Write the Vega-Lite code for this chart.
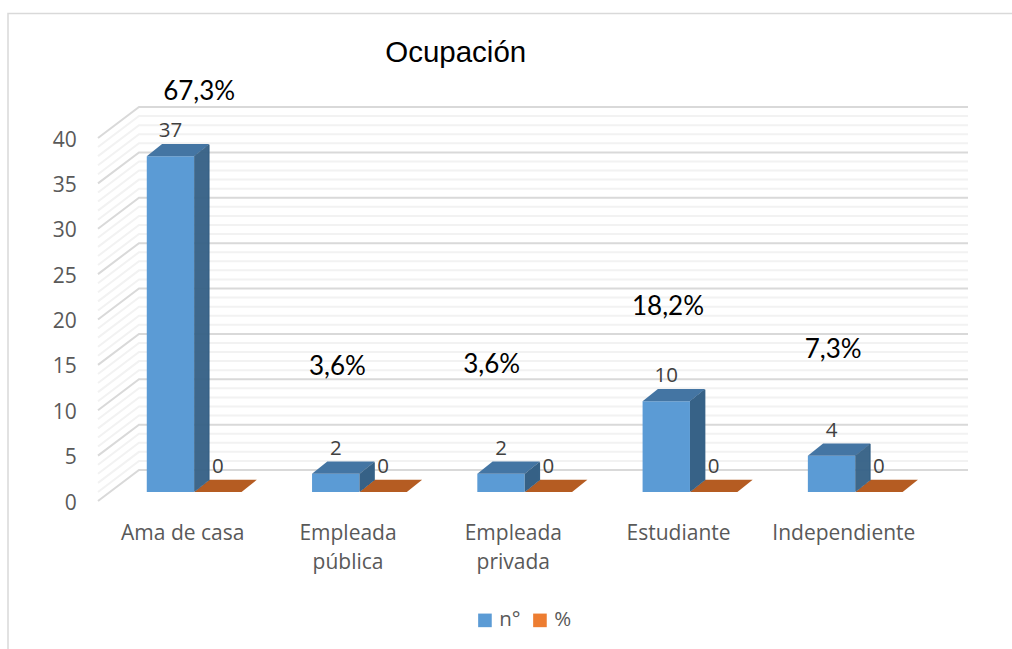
{"$schema":"https://vega.github.io/schema/vega-lite/v6.json","width":829,"height":363,"autosize":{"type":"none"},"padding":{"left":110.2,"top":129,"right":72.8,"bottom":157},"background":"white","view":{"stroke":null},
"title":{"text":"Ocupación","anchor":"start","frame":"group","dx":275,"offset":-58,"font":"Liberation Sans","fontSize":29.5,"fontWeight":"normal","color":"#000000"},
"datasets":{
"rows":[{"cat":"Ama de casa","serie":"n°","n":37},{"cat":"Ama de casa","serie":"%","n":0},{"cat":"Empleada pública","serie":"n°","n":2},{"cat":"Empleada pública","serie":"%","n":0},{"cat":"Empleada privada","serie":"n°","n":2},{"cat":"Empleada privada","serie":"%","n":0},{"cat":"Estudiante","serie":"n°","n":10},{"cat":"Estudiante","serie":"%","n":0},{"cat":"Independiente","serie":"n°","n":4},{"cat":"Independiente","serie":"%","n":0}],
"pct":[{"cat":"Ama de casa","pct":"67,3%","at":44.1},{"cat":"Empleada pública","pct":"3,6%","at":13.8},{"cat":"Empleada privada","pct":"3,6%","at":14.0},{"cat":"Estudiante","pct":"18,2%","at":20.4},{"cat":"Independiente","pct":"7,3%","at":15.6}],
"minor":[{"v":1},{"v":2},{"v":3},{"v":4},{"v":6},{"v":7},{"v":8},{"v":9},{"v":11},{"v":12},{"v":13},{"v":14},{"v":16},{"v":17},{"v":18},{"v":19},{"v":21},{"v":22},{"v":23},{"v":24},{"v":26},{"v":27},{"v":28},{"v":29},{"v":31},{"v":32},{"v":33},{"v":34},{"v":36},{"v":37},{"v":38},{"v":39}],
"major":[{"v":0},{"v":5},{"v":10},{"v":15},{"v":20},{"v":25},{"v":30},{"v":35},{"v":40}]},
"data":{"name":"rows"},
"layer":[
{"data":{"values":[{"k":"frame"}]},"mark":{"type":"point","shape":"M-102.2,520 L-102.2,-115.5 L901.8,-115.5","size":4,"filled":false,"stroke":"#d9d9d9","strokeWidth":1.5,"opacity":1},"encoding":{"x":{"value":0},"y":{"value":0}}},
{"data":{"name":"minor"},"mark":{"type":"point","shape":"M-12.2,9 L28.8,-22 L857.8,-22","size":4,"filled":false,"stroke":"#f2f2f2","strokeWidth":2,"opacity":1},"encoding":{"x":{"value":0},"y":{"field":"v","type":"quantitative","scale":{"domain":[0,40],"nice":false},"axis":{"values":[0,5,10,15,20,25,30,35,40],"title":null,"domain":false,"ticks":false,"grid":false,"labelPadding":34,"labelOffset":11,"labelFont":"Open Sans","labelFontSize":21,"labelColor":"#595959"}}}},
{"data":{"name":"major"},"mark":{"type":"point","shape":"M-12.2,9 L28.8,-22 L857.8,-22","size":4,"filled":false,"stroke":"#d9d9d9","strokeWidth":2,"opacity":1},"encoding":{"x":{"value":0},"y":{"field":"v","type":"quantitative"}}},
{"encoding":{"x":{"field":"cat","type":"nominal","sort":null,"scale":{"paddingInner":0,"paddingOuter":0.008},"axis":{"title":null,"domain":false,"ticks":false,"labelAngle":0,"labelOffset":-11.4,"labelPadding":30,"labelLineHeight":29,"labelFont":"Open Sans","labelFontSize":21,"labelColor":"#595959","labelLimit":300,"labelExpr":"datum.label=='Empleada pública'?['Empleada','pública']:datum.label=='Empleada privada'?['Empleada','privada']:datum.label"}},"xOffset":{"field":"serie","type":"nominal","scale":{"domain":["n°","%"],"paddingInner":0,"paddingOuter":0.744}},"y":{"field":"n","type":"quantitative"}},
"layer":[
{"mark":{"type":"bar"},"encoding":{"y2":{"datum":0},"color":{"field":"serie","type":"nominal","scale":{"domain":["n°","%"],"range":["#5b9bd5","#ed7d31"]},"legend":{"title":null,"orient":"none","legendX":364.5,"legendY":481,"direction":"horizontal","symbolType":"square","symbolSize":185,"symbolOpacity":1,"labelFont":"Open Sans","labelFontSize":20.5,"labelColor":"#595959","labelOffset":4,"columnPadding":9}}}},
{"transform":[{"filter":"datum.serie=='n°'"}],"mark":{"type":"point","shape":"M-23.7,0 L23.7,0 L39,-12.3 L-8.4,-12.3 Z","size":4,"filled":true,"fill":"#4475a3","strokeWidth":0,"opacity":1}},
{"transform":[{"filter":"datum.serie=='%'"}],"mark":{"type":"point","shape":"M-23.7,0 L23.7,0 L39,-12.3 L-8.4,-12.3 Z","size":4,"filled":true,"fill":"#b55c22","strokeWidth":0,"opacity":1}},
{"mark":{"type":"text","font":"Open Sans","fontSize":20.5,"color":"#404040","dy":-25,"baseline":"middle"},"encoding":{"text":{"field":"n","type":"quantitative"}}}]},
{"transform":[{"filter":"datum.serie=='n°'"}],"encoding":{"x":{"field":"cat","type":"nominal","sort":null},"y":{"field":"n","type":"quantitative"},"y2":{"datum":0}},"layer":[
{"mark":{"type":"rule","stroke":"#376287","strokeWidth":1.6,"xOffset":0.8,"yOffset":-0.6,"y2Offset":-0.6}},
{"mark":{"type":"rule","stroke":"#376287","strokeWidth":1.6,"xOffset":1.8,"yOffset":-1.4,"y2Offset":-1.4}},
{"mark":{"type":"rule","stroke":"#376287","strokeWidth":1.6,"xOffset":2.8,"yOffset":-2.2,"y2Offset":-2.2}},
{"mark":{"type":"rule","stroke":"#376287","strokeWidth":1.6,"xOffset":3.8,"yOffset":-3,"y2Offset":-3}},
{"mark":{"type":"rule","stroke":"#376287","strokeWidth":1.6,"xOffset":4.8,"yOffset":-3.8,"y2Offset":-3.8}},
{"mark":{"type":"rule","stroke":"#376287","strokeWidth":1.6,"xOffset":5.8,"yOffset":-4.6,"y2Offset":-4.6}},
{"mark":{"type":"rule","stroke":"#376287","strokeWidth":1.6,"xOffset":6.8,"yOffset":-5.4,"y2Offset":-5.4}},
{"mark":{"type":"rule","stroke":"#376287","strokeWidth":1.6,"xOffset":7.8,"yOffset":-6.2,"y2Offset":-6.2}},
{"mark":{"type":"rule","stroke":"#376287","strokeWidth":1.6,"xOffset":8.8,"yOffset":-7,"y2Offset":-7}},
{"mark":{"type":"rule","stroke":"#376287","strokeWidth":1.6,"xOffset":9.8,"yOffset":-7.8,"y2Offset":-7.8}},
{"mark":{"type":"rule","stroke":"#376287","strokeWidth":1.6,"xOffset":10.8,"yOffset":-8.6,"y2Offset":-8.6}},
{"mark":{"type":"rule","stroke":"#376287","strokeWidth":1.6,"xOffset":11.8,"yOffset":-9.4,"y2Offset":-9.4}},
{"mark":{"type":"rule","stroke":"#376287","strokeWidth":1.6,"xOffset":12.8,"yOffset":-10.2,"y2Offset":-10.2}},
{"mark":{"type":"rule","stroke":"#376287","strokeWidth":1.6,"xOffset":13.8,"yOffset":-11,"y2Offset":-11}},
{"mark":{"type":"rule","stroke":"#376287","strokeWidth":1.6,"xOffset":14.6,"yOffset":-11.6,"y2Offset":-11.6}}]},
{"data":{"name":"pct"},"layer":[
{"transform":[{"filter":"datum.cat=='Ama de casa'"}],"mark":{"type":"text","font":"Lato","fontSize":26,"color":"#000000","dx":5},"encoding":{"x":{"field":"cat","type":"nominal","sort":null},"y":{"field":"at","type":"quantitative"},"text":{"field":"pct"}}},
{"transform":[{"filter":"datum.cat=='Empleada privada'"}],"mark":{"type":"text","font":"Lato","fontSize":26,"color":"#000000","dx":-33},"encoding":{"x":{"field":"cat","type":"nominal","sort":null},"y":{"field":"at","type":"quantitative"},"text":{"field":"pct"}}},
{"transform":[{"filter":"datum.cat!='Ama de casa' && datum.cat!='Empleada privada'"}],"mark":{"type":"text","font":"Lato","fontSize":26,"color":"#000000","dx":-22},"encoding":{"x":{"field":"cat","type":"nominal","sort":null},"y":{"field":"at","type":"quantitative"},"text":{"field":"pct"}}}]}
]}
